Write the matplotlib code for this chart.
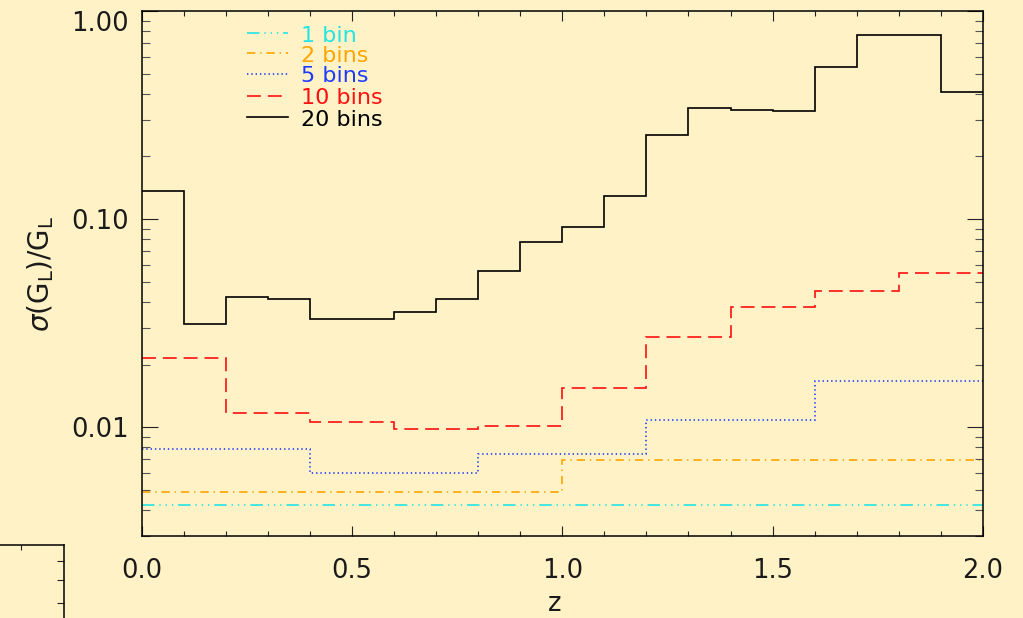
import numpy as np
import matplotlib
matplotlib.use("Agg")
import matplotlib.pyplot as plt

# ---------------- data ----------------
z_min, z_max = 0.0, 2.0
labels = ["1 bin", "2 bins", "5 bins", "10 bins", "20 bins"]
nbins = [1, 2, 5, 10, 20]
vals_1 = [0.00423]
vals_2 = [0.00487, 0.00697]
vals_5 = [0.00783, 0.00601, 0.00747, 0.01081, 0.01664]
vals_10 = [0.0215, 0.01172, 0.01054, 0.00978, 0.01015,
           0.01535, 0.0272, 0.0379, 0.0452, 0.0552]
vals_20 = [0.1364, 0.0314, 0.0420, 0.0411, 0.0332, 0.0330, 0.0358, 0.0413,
           0.0565, 0.0778, 0.0917, 0.1294, 0.2525, 0.343, 0.336, 0.329,
           0.536, 0.769, 0.764, 0.408]
series = [vals_1, vals_2, vals_5, vals_10, vals_20]
colors = ["#22E4E4", "#FFA500", "#1E3CFF", "#FF1010", "#000000"]
xticks = [0.0, 0.5, 1.0, 1.5, 2.0]
xticklabels = ["0.0", "0.5", "1.0", "1.5", "2.0"]
yticks = [0.01, 0.1, 1.0]
yticklabels = ["0.01", "0.10", "1.00"]

plt.rcParams['lines.scale_dashes'] = False
styles = [(0, (9, 3.5, 1, 3.5, 1, 3.5, 1, 3.5)),
          (0, (6, 3.5, 1, 3.5)),
          (0, (1, 2.1)),
          (0, (10, 5)),
          '-']

plt.rcParams['font.family'] = ['DejaVu Sans']
plt.rcParams['mathtext.fontset'] = 'dejavusans'

BG = "#FFF2C6"
TXT = "#1a1a1a"
W, H = 1023, 618
fig = plt.figure(figsize=(W / 100, H / 100), dpi=100, facecolor=BG)

L, R, T, B = 141.5, 983.0, 11.0, 536.0
ax = fig.add_axes([L / W, 1 - B / H, (R - L) / W, (B - T) / H])
ax.set_facecolor(BG)

for vals, n, c, ls in zip(series, nbins, colors, styles):
    edges = np.linspace(z_min, z_max, n + 1)
    ax.stairs(vals, edges, baseline=None, color=c, linestyle=ls, lw=1.2)

ax.set_yscale('log')
ax.set_xlim(z_min, z_max)
ax.set_ylim(0.003, 1.0)
ax.set_xticks(xticks)
ax.set_xticklabels(xticklabels)
ax.set_xticks(np.arange(0.1, 2.0, 0.1), minor=True)
ax.set_yticks(yticks)
ax.set_yticklabels(yticklabels)
ax.yaxis.set_minor_locator(matplotlib.ticker.LogLocator(base=10, subs=np.arange(2, 10)))
ax.yaxis.set_minor_formatter(matplotlib.ticker.NullFormatter())

for sp in ax.spines.values():
    sp.set_linewidth(1.1)
ax.tick_params(axis='both', which='both', direction='in', top=True, right=True,
               width=0.8, colors='#222222', labelcolor=TXT)
ax.tick_params(axis='x', which='major', length=7.2, labelsize=18.5, pad=16)
ax.tick_params(axis='x', which='minor', length=3.6)
ax.tick_params(axis='y', which='major', length=11.5, labelsize=18.5, pad=9)
ax.tick_params(axis='y', which='minor', length=5.8, color='#555555')
for lab in ax.get_yticklabels():
    if lab.get_text() == "1.00":
        lab.set_va('top')

ax.set_ylabel(r'$\sigma$(G$_{\rm L}$)/G$_{\rm L}$', fontsize=20, color=TXT)
ax.yaxis.set_label_coords(-0.102, 0.5)
fig.text(555 / W, 1 - 604 / H, "z", fontsize=18.5, ha='center', va='center', color=TXT)

# legend drawn manually
line_y = [33, 53, 74, 96, 117]
for lbl, c, ls, yy in zip(labels, colors, styles, line_y):
    yf = (B - yy) / (B - T)
    ax.plot([(247 - L) / (R - L), (288 - L) / (R - L)], [yf, yf], transform=ax.transAxes,
            color=c, linestyle=ls, lw=1.2)
    ax.text((301 - L) / (R - L), (B - yy - 2.5) / (B - T), lbl, transform=ax.transAxes,
            color=c, fontsize=16, va='center', ha='left')

# stray partial axes at bottom-left
ax2 = fig.add_axes([-100 / W, 1 - 700 / H, 164 / W, 155 / H])
ax2.set_facecolor(BG)
ax2.set_xlim(-100, 64)
ax2.set_ylim(700, 545)
ax2.set_xticks([21])
ax2.set_yticks([561, 580, 603])
ax2.tick_params(direction='in', top=True, right=True, bottom=False, left=False,
                labeltop=False, labelbottom=False, labelleft=False, labelright=False,
                width=0.8, colors='#222222')
ax2.tick_params(axis='x', length=3.6)
ax2.tick_params(axis='y', length=5.0)
for sp in ax2.spines.values():
    sp.set_linewidth(1.1)

fig.savefig("out.png", dpi=100, facecolor=BG)
